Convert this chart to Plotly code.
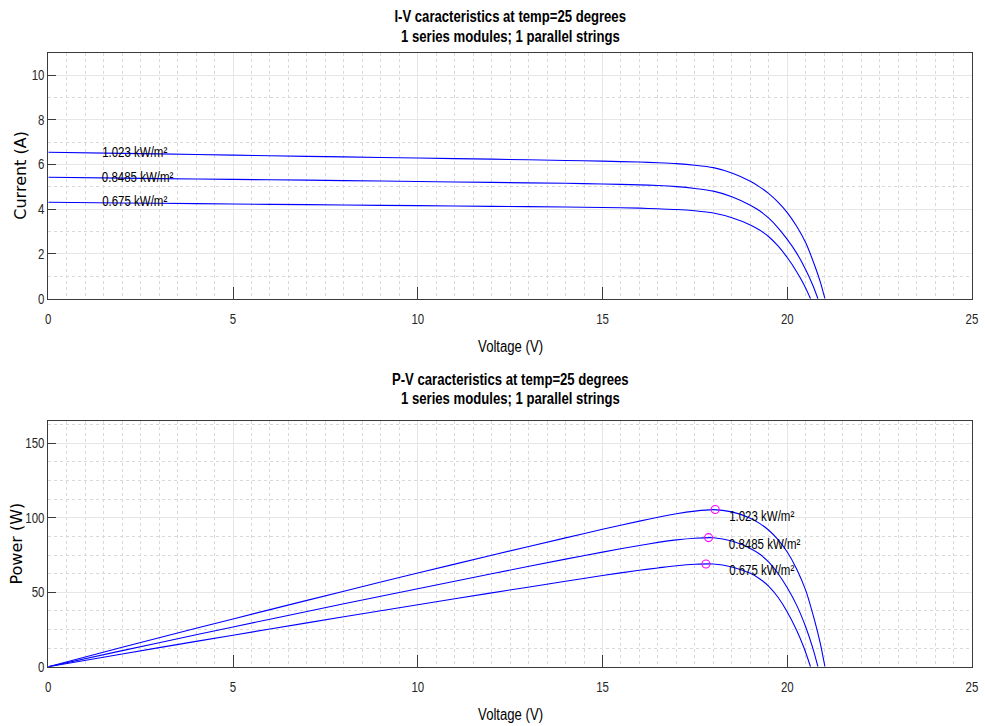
import numpy as np
import plotly.graph_objects as go

W, H = 985, 726

# Irradiance levels (kW/m^2)
irradiance = ["1.023", "0.8485", "0.675"]

# Voltage samples (V) and module current (A) for each irradiance
v_hi = [0, 2, 4, 6, 8, 10, 12, 14, 15, 16, 16.5, 17, 17.5, 18, 18.5, 19, 19.25,
        19.5, 19.75, 20, 20.25, 20.5, 20.75, 20.9, 21.02]
i_hi = [6.55, 6.50, 6.45, 6.39, 6.34, 6.29, 6.24, 6.18, 6.15, 6.11, 6.08, 6.04,
        5.97, 5.86, 5.62, 5.25, 5.00, 4.70, 4.32, 3.85, 3.25, 2.50, 1.45, 0.72, 0.0]

v_mid = [0, 2, 4, 6, 8, 10, 12, 14, 15, 16, 16.5, 17, 17.5, 18, 18.5, 19, 19.25,
         19.5, 19.75, 20, 20.25, 20.5, 20.7, 20.83]
i_mid = [5.43, 5.39, 5.35, 5.32, 5.28, 5.24, 5.20, 5.16, 5.13, 5.09, 5.06, 5.01,
         4.93, 4.81, 4.56, 4.18, 3.93, 3.60, 3.17, 2.65, 2.05, 1.30, 0.57, 0.0]

v_lo = [0, 2, 4, 6, 8, 10, 12, 14, 15, 16, 16.5, 17, 17.5, 18, 18.5, 19, 19.25,
        19.5, 19.75, 20, 20.25, 20.45, 20.63]
i_lo = [4.31, 4.28, 4.25, 4.22, 4.19, 4.16, 4.13, 4.10, 4.08, 4.05, 4.02, 3.99,
        3.93, 3.83, 3.62, 3.30, 3.07, 2.77, 2.36, 1.84, 1.22, 0.63, 0.0]

# Maximum power points (V, W)
mpp_v = [18.05, 17.87, 17.80]
mpp_p = [105.6, 86.7, 69.0]

# Curve label anchors
iv_label_v = [1.4, 1.4, 1.4]
iv_label_i = [6.56, 5.46, 4.35]
pv_label_v = [18.36, 18.36, 18.36]
pv_label_p = [101.2, 82.5, 64.9]

x_ticks = [0, 5, 10, 15, 20, 25]
i_ticks = [0, 2, 4, 6, 8, 10]
p_ticks = [0, 50, 100, 150]

curves = [(v_hi, i_hi), (v_mid, i_mid), (v_lo, i_lo)]

NARROW = "Liberation Sans Narrow, Liberation Sans, Arial, sans-serif"
WIDE = "DejaVu Sans, sans-serif"
BLUE = "#0000FF"
AXIS = "#3a3a3a"
SQUEEZE = 0.82  # horizontal condensing applied to the narrow-font texts


def fx(px):
    return px / W


def fy(py):
    return 1 - py / H


fig = go.Figure()

for v, i in curves:
    fig.add_trace(go.Scatter(x=v, y=i, mode="lines", xaxis="x", yaxis="y",
                             line=dict(color=BLUE, width=1.1, shape="spline", smoothing=0.6),
                             showlegend=False, hoverinfo="skip"))

for v, i in curves:
    p = np.array(v) * np.array(i)
    fig.add_trace(go.Scatter(x=v, y=p, mode="lines", xaxis="x2", yaxis="y2",
                             line=dict(color=BLUE, width=1.1, shape="spline", smoothing=0.6),
                             showlegend=False, hoverinfo="skip"))

fig.add_trace(go.Scatter(x=mpp_v, y=mpp_p, mode="markers", xaxis="x2", yaxis="y2",
                         marker=dict(symbol="circle-open", size=8, color="#FF00FF",
                                     line=dict(width=1.1, color="#FF00FF")),
                         showlegend=False, hoverinfo="skip"))

xdom = [fx(48.3), fx(972)]
ydom_top = [fy(298.7), fy(52.7)]
ydom_bot = [fy(666.7), fy(421)]

common = dict(showline=True, linecolor=AXIS, linewidth=1, mirror=True,
              ticks="inside", tickcolor=AXIS, showgrid=True, gridcolor="#e6e6e6",
              gridwidth=1, zeroline=False, automargin=False,
              tickfont=dict(family=NARROW, size=14, color="#262626"))


def xaxis(anchor):
    return dict(common, domain=xdom, anchor=anchor, range=[0, 25], tickvals=x_ticks,
                ticklen=12, ticklabelstandoff=7,
                minor=dict(dtick=0.5, tick0=0, showgrid=True, griddash="dot",
                           gridcolor="#d9d9d9", gridwidth=1, ticks=""))


def yaxis(anchor, dom, rng, vals, mdt):
    return dict(common, domain=dom, anchor=anchor, range=rng, tickvals=vals,
                ticklen=8,
                minor=dict(dtick=mdt, tick0=0, showgrid=True, griddash="dot",
                           gridcolor="#d9d9d9", gridwidth=1, ticks=""))


annotations = []


def text(x, y, s, size, family=NARROW, angle=0, xanchor="center"):
    annotations.append(dict(x=fx(x), y=fy(y), xref="paper", yref="paper", text=s,
                            showarrow=False, textangle=angle, xanchor=xanchor,
                            yanchor="middle",
                            font=dict(family=family, size=size, color="#000000")))


cx = (48.3 + 972) / 2
text(cx, 16, "<b>I-V caracteristics at temp=25 degrees</b>", 16)
text(cx, 36, "<b>1 series modules; 1 parallel strings</b>", 16)
text(cx, 379.5, "<b>P-V caracteristics at temp=25 degrees</b>", 16)
text(cx, 399, "<b>1 series modules; 1 parallel strings</b>", 16)
text(cx, 346, "Voltage (V)", 16)
text(cx, 714, "Voltage (V)", 16)
text(21, 175.7, "Current (A)", 16, family=WIDE, angle=-90)
text(15.5, 544, "Power (W)", 16, family=WIDE, angle=-90)

for k, g in enumerate(irradiance):
    label = f"{g} kW/m²"
    # centred text is condensed about its middle, so pull left-anchored labels back
    shift = -0.5 * (1 - SQUEEZE) * (len(g) * 7.8 + 40)
    annotations.append(dict(x=iv_label_v[k], y=iv_label_i[k], xref="x", yref="y",
                            text=label, showarrow=False, xshift=shift,
                            xanchor="left", yanchor="middle",
                            font=dict(family=NARROW, size=14, color="#000000")))
    annotations.append(dict(x=pv_label_v[k], y=pv_label_p[k], xref="x2", yref="y2",
                            text=label, showarrow=False, xshift=shift,
                            xanchor="left", yanchor="middle",
                            font=dict(family=NARROW, size=14, color="#000000")))

fig.update_layout(
    width=W, height=H, margin=dict(l=0, r=0, t=0, b=0),
    paper_bgcolor="white", plot_bgcolor="white",
    xaxis=xaxis("y"), yaxis=yaxis("x", ydom_top, [0, 11], i_ticks, 1),
    xaxis2=xaxis("y2"), yaxis2=yaxis("x2", ydom_bot, [0, 165], p_ticks, 12.5),
    annotations=annotations,
)

# Condense the narrow-font texts horizontally (emulates a narrow typeface)
condense_js = """
var gd = document.getElementById('{plot_id}');
gd.querySelectorAll('text').forEach(function (t) {
  var ff = t.style.fontFamily || '';
  if (ff.indexOf('Narrow') < 0) return;
  var L = t.getComputedTextLength();
  if (L > 0) {
    t.setAttribute('textLength', (%s * L).toFixed(2));
    t.setAttribute('lengthAdjust', 'spacingAndGlyphs');
  }
});
""" % SQUEEZE

fig.write_html("out.html", post_script=condense_js)
